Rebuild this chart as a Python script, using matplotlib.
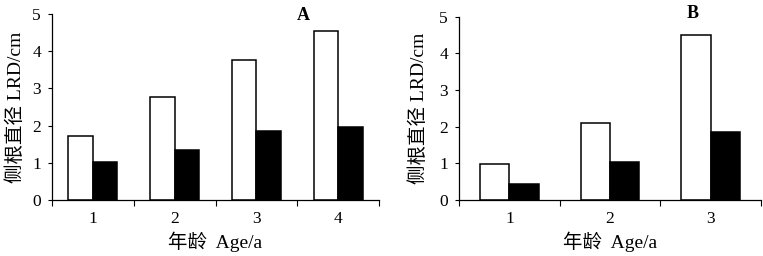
import matplotlib
matplotlib.use("Agg")
import matplotlib.pyplot as plt
import numpy as np

ages_a = ["1", "2", "3", "4"]
white_a = [1.72, 2.78, 3.76, 4.53]
black_a = [1.02, 1.35, 1.86, 1.96]

ages_b = ["1", "2", "3"]
white_b = [0.98, 2.10, 4.50]
black_b = [0.44, 1.05, 1.86]

yticks = [0, 1, 2, 3, 4, 5]
ylabel = "侧根直径 LRD/cm"
xlabel = "年龄  Age/a"

fam = ["Liberation Serif", "Noto Sans CJK SC"]
plt.rcParams["font.family"] = fam

fig = plt.figure(figsize=(7.63, 2.56), dpi=100)
W, H = 763, 256

def make_ax(left, right, top, bottom):
    return fig.add_axes([left / W, 1 - bottom / H, (right - left) / W, (bottom - top) / H])

ax_a = make_ax(52, 379, 14, 200)
ax_b = make_ax(459, 761, 16.7, 200)

def draw(ax, cats, white, black, bw, ylx, tag, tagx, tagy):
    n = len(cats)
    x = np.arange(n)
    ax.bar(x - bw / 2, white, width=bw, color="white", edgecolor="black", linewidth=1.1)
    ax.bar(x + bw / 2, black, width=bw, color="black", edgecolor="black", linewidth=1.1)
    ax.set_xlim(-0.5, n - 0.5)
    ax.set_ylim(0, 5)
    ax.set_yticks(yticks)
    ax.set_yticklabels([str(v) for v in yticks], fontsize=12.5)
    ax.set_xticks(np.arange(n + 1) - 0.5)
    ax.set_xticklabels([])
    ax.set_xticks(x, minor=True)
    ax.set_xticklabels(cats, minor=True, fontsize=12.5)
    ax.tick_params(axis="x", which="minor", length=0, pad=8)
    ax.tick_params(axis="x", which="major", length=4, width=0.8, direction="out")
    ax.tick_params(axis="y", length=3, width=0.8, direction="out", pad=5)
    for s in ["top", "right"]:
        ax.spines[s].set_visible(False)
    for s in ["left", "bottom"]:
        ax.spines[s].set_linewidth(0.9)
    bb = ax.get_position()
    fig.text(ylx / W, (bb.y0 + bb.y1) / 2, ylabel, rotation=90, ha="center", va="center",
             fontsize=14, family=fam)
    fig.text((bb.x0 + bb.x1) / 2, 1 - 242 / H, xlabel, ha="center", va="center",
             fontsize=14, family=fam)
    fig.text(tagx / W, 1 - tagy / H, tag, ha="center", va="center", fontsize=13, fontweight="bold")

draw(ax_a, ages_a, white_a, black_a, 0.30, 16, "A", 303, 15)
draw(ax_b, ages_b, white_b, black_b, 0.29, 419, "B", 693, 14)

fig.savefig("out.png", dpi=100)
